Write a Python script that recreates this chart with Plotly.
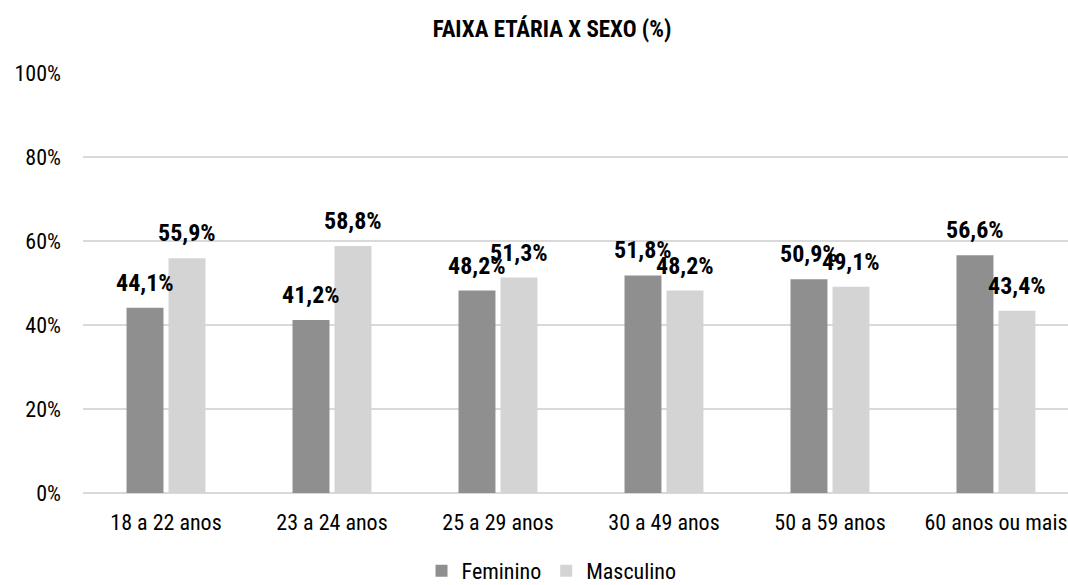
import plotly.graph_objects as go

categories = ["18 a 22 anos", "23 a 24 anos", "25 a 29 anos",
              "30 a 49 anos", "50 a 59 anos", "60 anos ou mais"]
feminino = [44.1, 41.2, 48.2, 51.8, 50.9, 56.6]
masculino = [55.9, 58.8, 51.3, 48.2, 49.1, 43.4]
y_ticks = [0, 20, 40, 60, 80, 100]

FONT = "Roboto, sans-serif"
C_FEM = "#8f8f8f"
C_MASC = "#d4d4d4"


def narrow(s):
    """Wrap text in a condensed-width span."""
    return f'<span style="font-stretch:condensed">{s}</span>'


def fmt(v):
    return f"{v:.1f}".replace(".", ",") + "%"


fig = go.Figure()
fig.add_trace(go.Bar(name=narrow("Feminino"), x=categories, y=feminino,
                     marker=dict(color=C_FEM, line=dict(width=0))))
fig.add_trace(go.Bar(name=narrow("Masculino"), x=categories, y=masculino,
                     marker=dict(color=C_MASC, line=dict(width=0))))

annotations = []
for cat, f, m in zip(categories, feminino, masculino):
    for val, shift in ((f, -21), (m, 21)):
        annotations.append(dict(
            x=cat, y=val, xref="x", yref="y",
            text=narrow("<b>" + fmt(val) + "</b>"),
            showarrow=False, xshift=shift, yshift=9, yanchor="bottom",
            font=dict(family=FONT, size=24, color="#000000")))

fig.update_layout(
    width=1068, height=585,
    margin=dict(l=83, r=0, t=73, b=92, autoexpand=False),
    paper_bgcolor="white", plot_bgcolor="white",
    barmode="group", bargap=0.494, bargroupgap=0.12,
    title=dict(text=narrow("<b>FAIXA ETÁRIA X SEXO (%)</b>"),
               x=0.517, xanchor="center", y=1 - 28.5 / 585, yanchor="middle",
               font=dict(family=FONT, size=23, color="#000000")),
    font=dict(family=FONT, size=22, color="#000000"),
    xaxis=dict(range=[-0.5, 5.434], showgrid=False, showline=False,
               tickvals=categories, ticktext=[narrow(c) for c in categories],
               ticks="", tickfont=dict(family=FONT, size=22, color="#000000"),
               automargin=False, ticklabelstandoff=14),
    yaxis=dict(range=[0, 100], tickvals=y_ticks,
               ticktext=[narrow(f"{t}%") for t in y_ticks],
               showgrid=True, gridcolor="#d9d9d9", gridwidth=2,
               zeroline=True, zerolinecolor="#d9d9d9", zerolinewidth=2,
               tickfont=dict(family=FONT, size=22, color="#000000"),
               automargin=False, ticklabelstandoff=21),
    legend=dict(orientation="h", x=508 / 1068, xanchor="center",
                y=-78 / 420, yanchor="middle",
                font=dict(family=FONT, size=22, color="#000000"),
                itemwidth=30, traceorder="normal", tracegroupgap=0,
                bgcolor="rgba(0,0,0,0)"),
    annotations=annotations,
)

fig.write_html("out.html")
